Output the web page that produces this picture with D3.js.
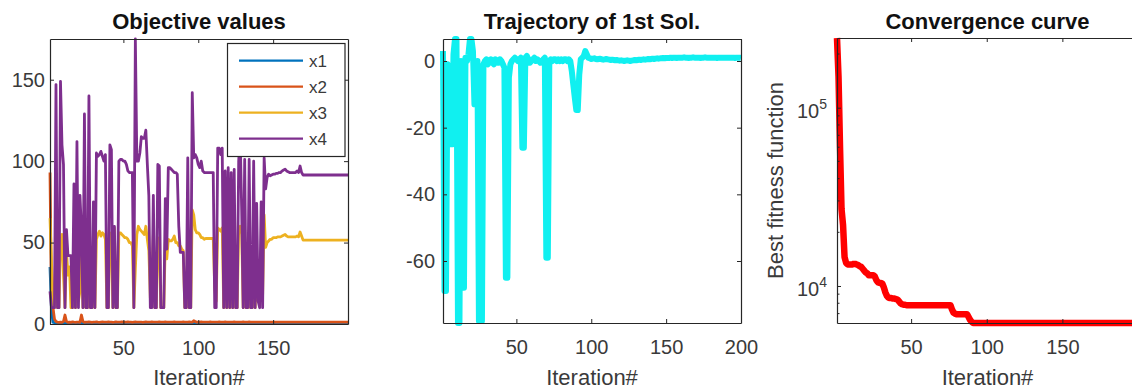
<!DOCTYPE html>
<html><head><meta charset="utf-8">
<script src="https://cdn.jsdelivr.net/npm/d3@7"></script>
<style>
body{margin:0;background:#fff;}
svg{display:block;font-family:"Liberation Sans",Arial,Helvetica,sans-serif;}
</style>
</head><body>
<svg id="c" width="1132" height="392"></svg>
<script>
// ---------- DATA ----------
const iterations = d3.range(1, 201);
const seriesNames = ["x1", "x2", "x3", "x4"];
const seriesColors = ["#0072BD", "#D95319", "#EDB120", "#7E2F8E"];

const x1 = [35,8,1,0.9,0.8,0.8,0.8,0.9,0.8,0.8, 0.8,0.8,0.8,0.8,0.8,0.8,0.8,0.8,0.8,0.8,
 0.8,0.8,0.8,0.8,0.8,0.8,0.8,0.8,0.8,0.8, 0.8,0.8,0.8,0.8,0.8,0.8,0.8,0.8,0.8,0.8,
 0.8,0.8,0.8,0.8,0.8,0.8,0.8,0.8,0.8,0.8, 0.8,0.8,0.8,0.8,0.8,0.8,0.8,0.8,0.8,0.8,
 0.8,0.8,0.8,0.8,0.8,0.8,0.8,0.8,0.8,0.8, 0.8,0.8,0.8,0.8,0.8,0.8,0.8,0.8,0.8,0.8,
 0.8,0.8,0.8,0.8,0.8,0.8,0.8,0.8,0.8,0.8, 0.8,0.8,0.8,0.8,0.8,0.8,0.8,0.8,0.8,0.8,
 0.8,0.8,0.8,0.8,0.8,0.8,0.8,0.8,0.8,0.8, 0.8,0.8,0.8,0.8,0.8,0.8,0.8,0.8,0.8,0.8,
 0.8,0.8,0.8,0.8,0.8,0.8,0.8,0.8,0.8,0.8, 0.8,0.8,0.8,0.8,0.8,0.8,0.8,0.8,0.8,0.8,
 0.8,0.8,0.8,0.8,0.8,0.8,0.8,0.8,0.8,0.8, 0.8,0.8,0.8,0.8,0.8,0.8,0.8,0.8,0.8,0.8,
 0.8,0.8,0.8,0.8,0.8,0.8,0.8,0.8,0.8,0.8, 0.8,0.8,0.8,0.8,0.8,0.8,0.8,0.8,0.8,0.8,
 0.8,0.8,0.8,0.8,0.8,0.8,0.8,0.8,0.8,0.8, 0.8,0.8,0.8,0.8,0.8,0.8,0.8,0.8,0.8,0.8];

const x2 = [93,12,10,3,1.5,1.2,1,1.2,1,1.5, 5.5,1.5,1,1.2,1,1.3,1.1,1,1.2,1.1,
 1,5.5,1.5,1,1.2,1.1,1.3,1.2,1,1.1, 1.2,1.3,1.1,1,1.2,1.3,1.2,1.1,1.2,1.3,
 1.1,1.2,1,1.1,1.3,1.2,1.2,1.1,1.3,1.2, 1.1,1.2,1.3,1.2,1.1,1,1.2,1.3,1.2,1.1,
 1.2,1.1,1,1.2,1.3,1.2,1.1,1.2,1.3,1.2, 1.1,1.2,1.1,1.3,1.2,1.1,1.2,1.3,1.2,1.1,
 1.2,1.1,1.2,1.3,1.2,1.1,1.2,1.1,1.2,1.3, 1.2,1.1,1.2,1.3,1.2,1.1,2,1.5,1.2,1.1,
 1.2,1.3,1.2,1.1,1.2,1.1,1.2,1.3,1.2,1.1, 1.2,1.1,1.2,1.3,1.2,1.1,1.2,1.3,1.2,1.1,
 1.2,1.1,1.2,1.3,1.2,1.1,1.2,1.1,1.2,1.3, 1.2,1.1,1.2,1.3,1.2,1.1,1.2,1.1,1.2,1.1,
 1.1,1.1,1.1,1.1,1.1,1.1,1.1,1.1,1.1,1.1, 1.1,1.1,1.1,1.1,1.1,1.1,1.1,1.1,1.1,1.1,
 1.1,1.1,1.1,1.1,1.1,1.1,1.1,1.1,1.1,1.1, 1.1,1.1,1.1,1.1,1.1,1.1,1.1,1.1,1.1,1.1,
 1.1,1.1,1.1,1.1,1.1,1.1,1.1,1.1,1.1,1.1, 1.1,1.1,1.1,1.1,1.1,1.1,1.1,1.1,1.1,1.1];

const x3 = [65,38,10,10,55,10,10,50,55,30, 10,45,30,35,10,10,48,10,50,14,
 20,50,10,55,10,10,58,10,10,45, 10,52,55,57,54,56,55,52,10,10,
 56,55,10,59,10,10,56,56,55,54, 53,53,52,50,50,48,10,34,55,60,
 58,57,56,55,60,52,45,16,24,55, 10,10,53,52,10,10,10,50,40,52,
 51,51,52,54,50,50,48,48,46,45, 10,10,55,10,10,70,67,58,56,56,
 55,53,53,52,52.5,52.5,52.5,52.5,52.5,52.5, 22,14,59,58,57,59,10,58,10,58,
 10,58,10,58,10,10,58,60,55,10, 58,10,10,58,10,10,57,10,34,14,
 30,40,18,67,47,50,51,52,52,53, 53,53,53.5,53.5,53.5,54,54.5,55,54,53.5,
 53.5,53.5,53.5,53.5,53.5,54,53.5,56.5,54,51.5, 51.5,51.5,51.5,51.5,51.5,51.5,51.5,51.5,51.5,51.5,
 51.5,51.5,51.5,51.5,51.5,51.5,51.5,51.5,51.5,51.5, 51.5,51.5,51.5,51.5,51.5,51.5,51.5,51.5,51.5,51.5];

const x4 = [20,10,10,10,147,10,10,149,110,98, 10,58,42,42,42,10,86,10,112,10,
 79,58,10,129,10,10,140,10,10,75, 10,105,103,104,106,103,100,104,10,10,
 110,107,10,60,10,10,100,101,101,100, 100,98,94,93,93,93,10,175,100,100,
 105,115,114,114,119,98,79,10,10,79, 10,10,98,97,10,10,10,77,46,96,
 96,95,94,93,93,92,60,44,44,44, 10,10,102,10,10,142,102,104,102,98,
 96,100,94,93,93,93,93,93,93,93, 10,10,108,108,104,108,10,94,10,96,
 10,93,10,95,10,10,100,116,70,10, 101,10,10,101,10,10,100,10,74,14,
 10,75,10,102,83,90,92,91,91.5,92, 92,92.5,92.5,93,93,94,94.5,95,94,93.5,
 93,93,93,93,93,94,93,97,93,91.5, 91.5,91.5,91.5,91.5,91.5,91.5,91.5,91.5,91.5,91.5,
 91.5,91.5,91.5,91.5,91.5,91.5,91.5,91.5,91.5,91.5, 91.5,91.5,91.5,91.5,91.5,91.5,91.5,91.5,91.5,91.5];

const trajectory = [3,-69,-69,-1,-25,-25,-25,2,6.6,6.6, -78.6,-78.6,0,-68,-68,1,0,2,6.6,6.6,
 3,-13,-13,0,-78,-78,-78,-1,0,0.5, -1,0,0.5,-0.5,-1,0.5,0,-0.5,0.5,0,
 -1,-2,-65,-65,-5,-1,0,0.5,1,0.5, 0,0.5,1,-26,-26,1,1.5,0.5,-0.5,0,
 0.5,1,0,0.5,0,-0.5,0,0.5,1,-59, -59,0,0.5,0,0.5,0.5,0,0.5,0,0.5,
 0,0.5,0.5,0,0.5,0,-3,-7,-11,-14.7, -14.7,-4,0.5,1,1.5,3,2,1,0.8,0.6,
 0.7,0.8,0.6,0.5,0.6,0.7,0.5,0.4,0.5,0.6, 0.5,0.4,0.3,0.4,0.3,0.2,0.3,0.2,0.1,0.2,
 0.1,0,0.1,0.2,0.1,0,0.1,0.2,0.3,0.2, 0.3,0.4,0.3,0.4,0.5,0.4,0.5,0.6,0.5,0.6,
 0.7,0.6,0.7,0.8,0.7,0.8,0.8,0.9,0.8,0.9, 0.9,0.9,1,0.9,1,1,0.9,1,1,1,
 1,1.1,1,1,0.9,1,1,1.1,1,1, 1,1,0.9,1,1,1.1,1,1,1,1,
 1,1,1,0.9,1,1,1,1,1,1, 1,1,1,1,1,0.9,1,1,1,0.9];

const bestFitness = [246000,150000,60000,27000,22000,14500,13500,13200,13200,13200,
 13200,13300,13300,13200,13100,12900,12800,12500,12200,11900,
 11800,11500,11500,11500,11500,11300,10800,10500,10400,10400,
 10300,9800,9200,8800,8600,8550,8550,8500,8500,8450,
 8400,8200,8000,7900,7850,7850,7800,7800,7800,7800,
 7800,7800,7800,7800,7800,7800,7800,7800,7800,7800,
 7800,7800,7800,7800,7800,7800,7800,7800,7800,7800,
 7800,7800,7800,7800,7800,7800,7400,7100,7000,6950,
 6950,6950,6950,6950,6950,6950,6950,6700,6450,6300,
 6200,6200,6200,6200,6200,6200,6200,6200,6200,6200,
 6200,6200,6200,6200,6200,6200,6200,6200,6200,6200, 6200,6200,6200,6200,6200,6200,6200,6200,6200,6200,
 6200,6200,6200,6200,6200,6200,6200,6200,6200,6200, 6200,6200,6200,6200,6200,6200,6200,6200,6200,6200,
 6200,6200,6200,6200,6200,6200,6200,6200,6200,6200, 6200,6200,6200,6200,6200,6200,6200,6200,6200,6200,
 6200,6200,6200,6200,6200,6200,6200,6200,6200,6200, 6200,6200,6200,6200,6200,6200,6200,6200,6200,6200,
 6200,6200,6200,6200,6200,6200,6200,6200,6200,6200, 6200,6200,6200,6200,6200,6200,6200,6200,6200,6200];

const xTicks1 = [50, 100, 150];
const xTicks2 = [50, 100, 150, 200];
const xTicks3 = [50, 100, 150];
const yTicks1 = [0, 50, 100, 150];
const yTicks2 = [-60, -40, -20, 0];
const yTicks3 = [1e4, 1e5];
const yMinor3 = [7000, 8000, 9000, 2e4, 3e4, 4e4, 5e4, 6e4, 7e4, 8e4, 9e4, 2e5];
const titles = ["Objective values", "Trajectory of 1st Sol.", "Convergence curve"];
const xLabel = "Iteration#";
const yLabel3 = "Best fitness function";

// ---------- DRAWING ----------
const svg = d3.select("#c");
const AX = "#262626", TXT = "#3a3a3a";
const TICK_FS = 20, LAB_FS = 22;
const plain = d => String(d);

function drawFrame(x, y, xt, yt, opts) {
  const [l, r] = x.range(), [b, t] = y.range();
  const g = svg.append("g");
  g.append("g").attr("transform", `translate(0,${b})`)
    .call(d3.axisBottom(x).tickValues(xt).tickSizeInner(-4).tickSizeOuter(0).tickPadding(17).tickFormat(plain));
  g.append("g").attr("transform", `translate(0,${t})`)
    .call(d3.axisTop(x).tickValues(xt).tickSizeInner(-4).tickSizeOuter(0).tickFormat(""));
  g.append("g").attr("transform", `translate(${l},0)`)
    .call(d3.axisLeft(y).tickValues(yt).tickSizeInner(-4).tickSizeOuter(0).tickPadding(opts.ypad || 6)
      .tickFormat(opts.yfmt || plain));
  if (opts.right !== false) {
    g.append("g").attr("transform", `translate(${r},0)`)
      .call(d3.axisRight(y).tickValues(yt).tickSizeInner(-4).tickSizeOuter(0).tickFormat(""));
  }
  g.selectAll(".domain").attr("stroke", AX).attr("stroke-width", 1.2);
  g.selectAll(".tick line").attr("stroke", AX);
  g.selectAll("text").attr("font-size", TICK_FS).attr("fill", TXT)
    .attr("font-family", '"Liberation Sans",Arial,sans-serif');
  return g;
}

function titleAndLabel(x, title) {
  const [l, r] = x.range();
  const cx = (l + r) / 2;
  svg.append("text").attr("x", cx).attr("y", 29).attr("text-anchor", "middle")
    .attr("font-size", LAB_FS).attr("font-weight", "bold").attr("fill", "#111").text(title);
  svg.append("text").attr("x", cx).attr("y", 385).attr("text-anchor", "middle")
    .attr("font-size", LAB_FS).attr("fill", TXT).text(xLabel);
}

// Panel 1
const xs1 = d3.scaleLinear().domain([1, 200]).range([50, 348]);
const ys1 = d3.scaleLinear().domain([0, 175]).range([324, 39]);
const seriesData = [x1, x2, x3, x4];
const line1 = d3.line().x((d, i) => xs1(iterations[i])).y(d => ys1(d));
seriesData.forEach((s, k) => {
  svg.append("path").datum(s).attr("d", line1).attr("fill", "none")
    .attr("stroke", seriesColors[k]).attr("stroke-width", 2.8).attr("stroke-linejoin", "round");
});
drawFrame(xs1, ys1, xTicks1, yTicks1, {ypad: 5});
titleAndLabel(xs1, titles[0]);
// legend
const lg = svg.append("g");
lg.append("rect").attr("x", 227.5).attr("y", 43.5).attr("width", 117.5).attr("height", 113)
  .attr("fill", "#fff").attr("stroke", AX).attr("stroke-width", 1.2);
seriesNames.forEach((n, k) => {
  const yy = 60.7 + k * 26;
  lg.append("line").attr("x1", 239).attr("x2", 303).attr("y1", yy).attr("y2", yy)
    .attr("stroke", seriesColors[k]).attr("stroke-width", 2.2);
  lg.append("text").attr("x", 309).attr("y", yy).attr("dy", "0.35em")
    .attr("font-size", 17).attr("fill", TXT).text(n);
});

// Panel 2
const xs2 = d3.scaleLinear().domain([1, 200]).range([443, 741]);
const ys2 = d3.scaleLinear().domain([-78.6, 6.6]).range([323, 39]);
const line2 = d3.line().x((d, i) => xs2(iterations[i])).y(d => ys2(d));
svg.append("path").datum(trajectory).attr("d", line2).attr("fill", "none")
  .attr("stroke", "#10F0F0").attr("stroke-width", 6).attr("stroke-linejoin", "round");
drawFrame(xs2, ys2, xTicks2, yTicks2, {ypad: 8});
titleAndLabel(xs2, titles[1]);

// Panel 3
const xs3 = d3.scaleLinear().domain([1, 200]).range([837, 1138]);
const ys3 = d3.scaleLog().domain([6200, 246000]).range([323, 38]);
const line3 = d3.line().x((d, i) => xs3(iterations[i])).y(d => ys3(d));
svg.append("path").datum(bestFitness).attr("d", line3).attr("fill", "none")
  .attr("stroke", "#F00").attr("stroke-width", 6.5).attr("stroke-linejoin", "round");
drawFrame(xs3, ys3, xTicks3, yTicks3, {ypad: 10, right: false, yfmt: () => ""});
svg.append("g").selectAll("line").data(yMinor3).join("line")
  .attr("x1", 837).attr("x2", 839.5).attr("y1", d => ys3(d)).attr("y2", d => ys3(d))
  .attr("stroke", AX).attr("stroke-width", 1);
yTicks3.forEach(v => {
  const e = Math.round(Math.log10(v));
  const t = svg.append("text").attr("x", 827).attr("y", ys3(v) + 10.5).attr("text-anchor", "end")
    .attr("font-size", TICK_FS).attr("fill", TXT);
  t.append("tspan").text("10");
  t.append("tspan").attr("dy", -9).attr("font-size", 14).text(String(e));
});
titleAndLabel(xs3, titles[2]);
svg.append("text").attr("transform", `translate(783,${(38 + 323) / 2}) rotate(-90)`)
  .attr("text-anchor", "middle").attr("font-size", LAB_FS).attr("fill", TXT).text(yLabel3);
</script>
</body></html>
